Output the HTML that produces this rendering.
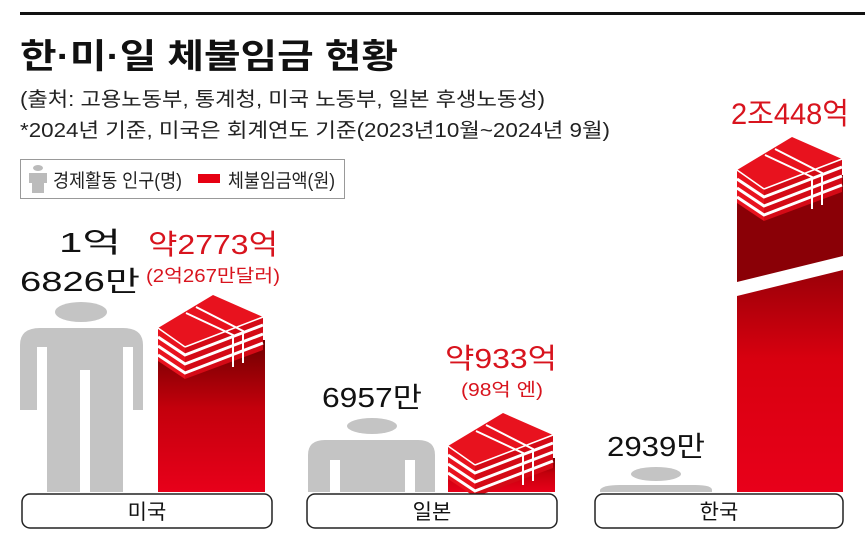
<!DOCTYPE html>
<html><head><meta charset="utf-8"><style>
html,body{margin:0;padding:0;background:#fff;}
svg{display:block;font-family:"Liberation Sans","Noto Sans CJK KR",sans-serif;}
</style></head><body>
<svg width="865" height="542" viewBox="0 0 865 542" xmlns="http://www.w3.org/2000/svg">
<defs>
<linearGradient id="bar" x1="0" y1="0" x2="0" y2="1">
<stop offset="0" stop-color="#6e0000"/><stop offset="0.45" stop-color="#c4000c"/><stop offset="1" stop-color="#e8001a"/>
</linearGradient>
<linearGradient id="barK" x1="0" y1="0" x2="0" y2="1">
<stop offset="0" stop-color="#9a0008"/><stop offset="0.4" stop-color="#d8000f"/><stop offset="1" stop-color="#e8001a"/>
</linearGradient>
<g id="stack">
<polygon points="0,33 55,0 105,22 27,52" fill="#e8121e"/>
<polygon points="0,33 27,52 27,84 0,66" fill="#e8121e"/>
<polygon points="27,52 105,22 105,55 27,84" fill="#d40a16"/>
<g stroke="#fff" stroke-width="3" fill="none">
<polyline points="0,42 27,60 105,30"/>
<polyline points="0,51 27,69 105,39"/>
<polyline points="0,60 27,78 105,48"/>
<line x1="27" y1="52" x2="105" y2="22" stroke-width="1.5"/>
<line x1="0" y1="33" x2="27" y2="52" stroke-width="1.5"/>
<polyline points="28,18 75,40 75,72" stroke="#fff" stroke-width="2"/>
<polyline points="38,12 85,36 85,68" stroke="#fff" stroke-width="2"/>
</g>
</g>
</defs>
<rect x="20" y="12" width="845" height="3" fill="#111"/>
<text x="20" y="68" font-size="34" font-weight="bold" fill="#111" textLength="378" lengthAdjust="spacingAndGlyphs">한·미·일 체불임금 현황</text>
<text x="20" y="106" font-size="20" fill="#222" textLength="525" lengthAdjust="spacingAndGlyphs">(출처: 고용노동부, 통계청, 미국 노동부, 일본 후생노동성)</text>
<text x="20" y="137" font-size="20" fill="#222" textLength="590" lengthAdjust="spacingAndGlyphs">*2024년 기준, 미국은 회계연도 기준(2023년10월~2024년 9월)</text>
<!-- legend -->
<rect x="20.5" y="159.5" width="324" height="39" fill="#fff" stroke="#999" stroke-width="1"/>
<ellipse cx="38" cy="168" rx="5" ry="3" fill="#bbb"/>
<path d="M29,173 h18 v10 h-3 v10 h-12 v-10 h-3z" fill="#bbb"/>
<text x="53" y="187" font-size="19" fill="#222" textLength="129" lengthAdjust="spacingAndGlyphs">경제활동 인구(명)</text>
<rect x="198" y="174" width="22" height="9" fill="#e60012"/>
<text x="228" y="187" font-size="19" fill="#222" textLength="107" lengthAdjust="spacingAndGlyphs">체불임금액(원)</text>
<!-- US person -->
<ellipse cx="81" cy="312" rx="26" ry="10" fill="#c4c4c4"/>
<path d="M20,492 V345 Q20,328 40,328 H123 Q143,328 143,345 V410 H123 V492 H90 V370 H80 V492 H47 V410 H20Z" fill="#c4c4c4"/>
<rect x="37" y="347" width="10" height="63" fill="#fff"/>
<rect x="123" y="347" width="10" height="63" fill="#fff"/>
<!-- US bar -->
<rect x="158" y="340" width="107" height="152" fill="url(#bar)"/>
<use href="#stack" x="158" y="295"/>
<text x="90" y="252" font-size="28" fill="#111" text-anchor="middle" textLength="62" lengthAdjust="spacingAndGlyphs">1억</text>
<text x="80" y="291" font-size="28" fill="#111" text-anchor="middle" textLength="120" lengthAdjust="spacingAndGlyphs">6826만</text>
<text x="213" y="254" font-size="28" fill="#d8141e" text-anchor="middle" textLength="130" lengthAdjust="spacingAndGlyphs">약2773억</text>
<text x="213" y="282" font-size="18" fill="#d8141e" text-anchor="middle" textLength="134" lengthAdjust="spacingAndGlyphs">(2억267만달러)</text>
<!-- Japan -->
<ellipse cx="372" cy="426" rx="25" ry="8" fill="#c4c4c4"/>
<path d="M308,492 V455 Q308,440 325,440 H418 Q435,440 435,455 V492Z" fill="#c4c4c4"/>
<rect x="330" y="460" width="10" height="32" fill="#fff"/>
<rect x="405" y="460" width="10" height="32" fill="#fff"/>
<rect x="448" y="458" width="107" height="34" fill="url(#bar)"/>
<use href="#stack" x="448" y="413"/>
<text x="372" y="407" font-size="28" fill="#111" text-anchor="middle" textLength="100" lengthAdjust="spacingAndGlyphs">6957만</text>
<text x="501" y="368" font-size="28" fill="#d8141e" text-anchor="middle" textLength="112" lengthAdjust="spacingAndGlyphs">약933억</text>
<text x="502" y="396" font-size="18" fill="#d8141e" text-anchor="middle" textLength="82" lengthAdjust="spacingAndGlyphs">(98억 엔)</text>
<!-- Korea -->
<ellipse cx="656" cy="474" rx="25" ry="7" fill="#c4c4c4"/>
<path d="M600,492 V490 Q602,485 620,485 H695 Q712,485 712,490 V492Z" fill="#c4c4c4"/>
<polygon points="737,175 843,175 843,256 737,282" fill="#8a0006"/>
<polygon points="737,296 843,270 843,492 737,492" fill="url(#barK)"/>
<use href="#stack" x="737" y="137"/>
<text x="790" y="124" font-size="30" fill="#d8141e" text-anchor="middle" textLength="118" lengthAdjust="spacingAndGlyphs">2조448억</text>
<text x="656" y="456" font-size="28" fill="#111" text-anchor="middle" textLength="98" lengthAdjust="spacingAndGlyphs">2939만</text>
<!-- label boxes -->
<g fill="#fff" stroke="#222" stroke-width="1.5">
<rect x="22" y="494" width="250" height="34" rx="8"/>
<rect x="307" y="494" width="250" height="34" rx="8"/>
<rect x="595" y="494" width="248" height="34" rx="8"/>
</g>
<g font-size="21" fill="#111" text-anchor="middle">
<text x="147" y="519">미국</text>
<text x="432" y="519">일본</text>
<text x="719" y="519">한국</text>
</g>
</svg>
</body></html>
